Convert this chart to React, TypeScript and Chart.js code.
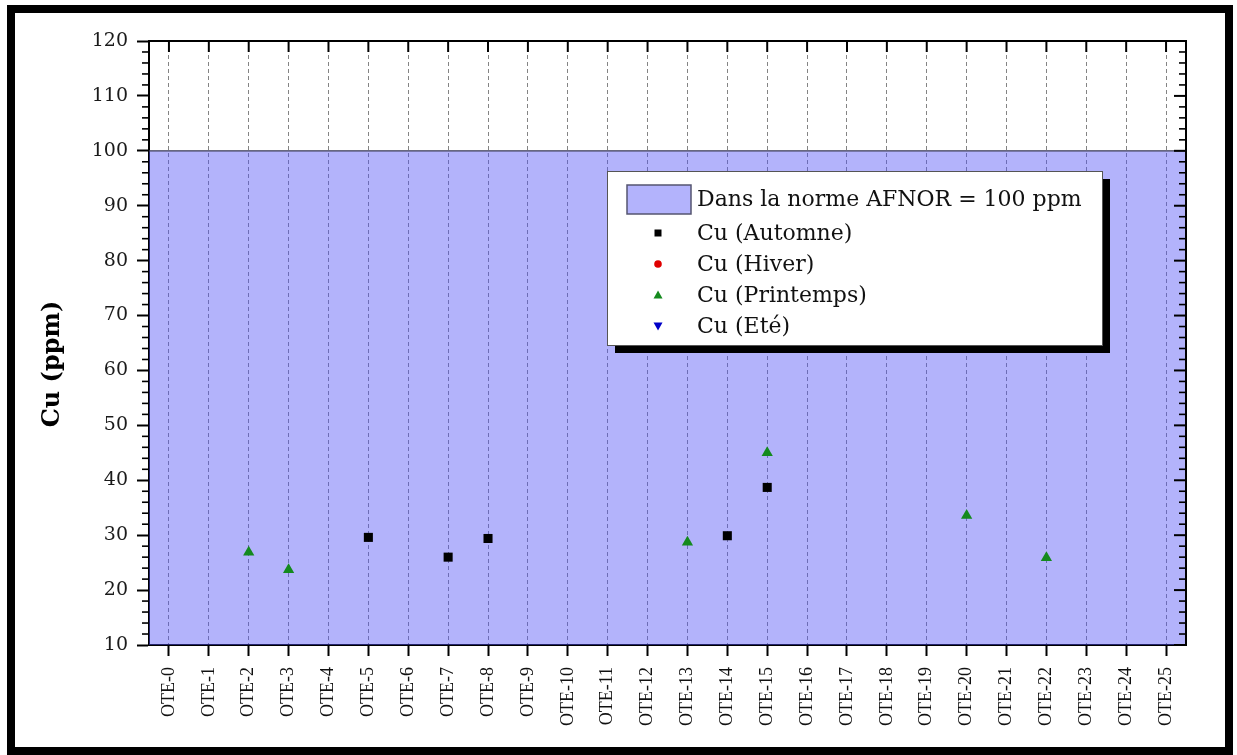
import React, { useEffect, useRef } from 'react';
import { Chart, registerables } from 'chart.js';

Chart.register(...registerables);

const CATEGORIES: string[] = [
  'OTE-0', 'OTE-1', 'OTE-2', 'OTE-3', 'OTE-4', 'OTE-5', 'OTE-6', 'OTE-7', 'OTE-8', 'OTE-9',
  'OTE-10', 'OTE-11', 'OTE-12', 'OTE-13', 'OTE-14', 'OTE-15', 'OTE-16', 'OTE-17', 'OTE-18',
  'OTE-19', 'OTE-20', 'OTE-21', 'OTE-22', 'OTE-23', 'OTE-24', 'OTE-25',
];

const Y_MIN = 10;
const Y_MAX = 120;
const Y_STEP = 10;
const AFNOR_LIMIT = 100;

// values per station (index = OTE number), null = no measure
const CU_AUTOMNE: (number | null)[] = [
  null, null, null, null, null, 29.6, null, 26.0, 29.4, null,
  null, null, null, null, 29.9, 38.7, null, null, null,
  null, null, null, null, null, null, null,
];
const CU_HIVER: (number | null)[] = [];
const CU_PRINTEMPS: (number | null)[] = [
  null, null, 26.9, 23.7, null, null, null, null, null, null,
  null, null, null, 28.7, null, 45.0, null, null, null,
  null, 33.6, null, 25.9, null, null, null,
];
const CU_ETE: (number | null)[] = [];

const LABEL_NORME = 'Dans la norme AFNOR = 100 ppm';
const LABEL_AUTOMNE = 'Cu (Automne)';
const LABEL_HIVER = 'Cu (Hiver)';
const LABEL_PRINTEMPS = 'Cu (Printemps)';
const LABEL_ETE = 'Cu (Eté)';
const Y_TITLE = 'Cu (ppm)';

const SERIF = '"DejaVu Serif", "Liberation Serif", serif';

const toPoints = (arr: (number | null)[]) =>
  arr
    .map((v, i) => ({ x: i, y: v }))
    .filter((p) => p.y !== null && p.y !== undefined) as { x: number; y: number }[];

function drawMarker(ctx: CanvasRenderingContext2D, style: string, x: number, y: number, color: string) {
  ctx.save();
  ctx.fillStyle = color;
  ctx.beginPath();
  if (style === 'rect') {
    ctx.rect(x - 3.5, y - 3.5, 7, 7);
  } else if (style === 'circle') {
    ctx.arc(x, y, 3.8, 0, Math.PI * 2);
  } else if (style === 'triangle') {
    ctx.moveTo(x, y - 4.5);
    ctx.lineTo(x + 4.5, y + 3.5);
    ctx.lineTo(x - 4.5, y + 3.5);
    ctx.closePath();
  } else if (style === 'triangleDown') {
    ctx.moveTo(x, y + 4.5);
    ctx.lineTo(x + 4.5, y - 3.5);
    ctx.lineTo(x - 4.5, y - 3.5);
    ctx.closePath();
  }
  ctx.fill();
  ctx.restore();
}

const decorPlugin = {
  id: 'decor',
  afterDraw(chart: any) {
    const { ctx, chartArea: ca, scales } = chart;
    const x = scales.x;
    const y = scales.y;
    const line = (x1: number, y1: number, x2: number, y2: number) => {
      ctx.beginPath();
      ctx.moveTo(x1, y1);
      ctx.lineTo(x2, y2);
      ctx.stroke();
    };
    ctx.save();
    ctx.strokeStyle = '#000';
    ctx.lineWidth = 2;
    // top & right frame of the plot
    line(ca.left - 1, ca.top, ca.right + 1, ca.top);
    line(ca.right, ca.top, ca.right, ca.bottom);
    // top ticks (inward)
    x.ticks.forEach((t: any) => {
      const px = x.getPixelForValue(t.value);
      line(px, ca.top, px, ca.top + 11);
    });
    // minor ticks left (outward) & right ticks (inward)
    for (let v = Y_MIN; v <= Y_MAX; v += 2) {
      const py = y.getPixelForValue(v);
      const major = v % Y_STEP === 0;
      ctx.lineWidth = major ? 2 : 1.6;
      if (!major) line(ca.left - 7, py, ca.left, py);
      line(ca.right - (major ? 12 : 7), py, ca.right, py);
    }

    // y title
    ctx.save();
    ctx.translate(59, (ca.top + ca.bottom) / 2 + 21);
    ctx.rotate(-Math.PI / 2);
    ctx.fillStyle = '#000';
    ctx.font = `bold 24px ${SERIF}`;
    ctx.textAlign = 'center';
    ctx.textBaseline = 'alphabetic';
    ctx.fillText(Y_TITLE, 0, 0);
    ctx.restore();

    // legend
    const lx = ca.left + 458;
    const ly = ca.top + 130;
    const lw = 495;
    const lh = 174;
    ctx.fillStyle = '#000';
    ctx.fillRect(lx + 8, ly + 8, lw, lh);
    ctx.fillStyle = '#fff';
    ctx.fillRect(lx, ly, lw, lh);
    ctx.strokeStyle = '#555';
    ctx.lineWidth = 1;
    ctx.strokeRect(lx + 0.5, ly + 0.5, lw, lh);

    const ds = chart.data.datasets;
    const rowMid = [28, 62, 93, 124, 155];
    ctx.font = `22px ${SERIF}`;
    ctx.textAlign = 'left';
    ctx.textBaseline = 'middle';
    ds.forEach((d: any, i: number) => {
      const cy = ly + rowMid[i];
      if (i === 0) {
        ctx.fillStyle = 'rgb(179,179,252)';
        ctx.fillRect(lx + 20, cy - 14, 64, 29);
        ctx.strokeStyle = '#555570';
        ctx.lineWidth = 1.5;
        ctx.strokeRect(lx + 20, cy - 14, 64, 29);
      } else {
        drawMarker(ctx, d._legendStyle, lx + 51, cy, d.backgroundColor);
      }
      ctx.fillStyle = '#111';
      ctx.fillText(d.label, lx + 90, cy + 1);
    });
    ctx.restore();
  },
};

export default function App() {
  const canvasRef = useRef<HTMLCanvasElement | null>(null);

  useEffect(() => {
    if (!canvasRef.current) return;
    const markerBase = { type: 'line', showLine: false, borderWidth: 0, pointRadius: 6.5, pointHoverRadius: 6.5, order: 0 };
    const chart = new Chart(canvasRef.current, {
      type: 'line',
      data: {
        datasets: [
          {
            label: LABEL_NORME,
            data: [
              { x: -0.5, y: AFNOR_LIMIT },
              { x: CATEGORIES.length - 0.5, y: AFNOR_LIMIT },
            ],
            fill: 'start',
            backgroundColor: 'rgba(80,80,245,0.434)',
            borderColor: '#3c3c55',
            borderWidth: 1.2,
            pointRadius: 0,
            order: 5,
          },
          {
            ...markerBase,
            label: LABEL_AUTOMNE,
            data: toPoints(CU_AUTOMNE),
            pointStyle: 'rect',
            pointRadius: 6.4,
            backgroundColor: '#000',
            borderColor: '#000',
            _legendStyle: 'rect',
          },
          {
            ...markerBase,
            label: LABEL_HIVER,
            data: toPoints(CU_HIVER),
            pointStyle: 'circle',
            backgroundColor: '#e00000',
            borderColor: '#e00000',
            _legendStyle: 'circle',
          },
          {
            ...markerBase,
            label: LABEL_PRINTEMPS,
            data: toPoints(CU_PRINTEMPS),
            pointStyle: 'triangle',
            backgroundColor: '#148a1e',
            borderColor: '#148a1e',
            _legendStyle: 'triangle',
          },
          {
            ...markerBase,
            label: LABEL_ETE,
            data: toPoints(CU_ETE),
            pointStyle: 'triangle',
            rotation: 180,
            backgroundColor: '#0000c8',
            borderColor: '#0000c8',
            _legendStyle: 'triangleDown',
          },
        ] as any,
      },
      options: {
        animation: false,
        responsive: false,
        events: [],
        layout: { padding: { left: 40, top: 41, right: 51, bottom: 10 } },
        plugins: { legend: { display: false }, tooltip: { enabled: false } },
        scales: {
          x: {
            type: 'linear',
            min: -0.5,
            max: CATEGORIES.length - 0.5,
            afterBuildTicks: (s: any) => {
              s.ticks = CATEGORIES.map((_, i) => ({ value: i }));
            },
            afterFit: (s: any) => {
              s.height = 100;
            },
            ticks: {
              autoSkip: false,
              minRotation: 90,
              maxRotation: 90,
              padding: 11,
              color: '#111',
              font: { family: '"Liberation Serif", serif', size: 18 },
              callback: (v: any) => CATEGORIES[Math.round(Number(v))] ?? '',
            },
            grid: {
              color: 'rgba(125,125,125,0.95)',
              lineWidth: 1,
              tickColor: '#000',
              tickWidth: 2,
              tickLength: 11,
            },
            border: { display: true, color: '#000', width: 2, dash: [4, 3] },
          },
          y: {
            min: Y_MIN,
            max: Y_MAX,
            afterFit: (s: any) => {
              s.width = 109;
            },
            ticks: {
              stepSize: Y_STEP,
              padding: 9,
              color: '#1a1a1a',
              font: { family: SERIF, size: 19 },
            },
            grid: {
              drawOnChartArea: false,
              tickColor: '#000',
              tickWidth: 2,
              tickLength: 12,
            },
            border: { display: true, color: '#000', width: 2 },
          },
        },
      } as any,
      plugins: [decorPlugin],
    });
    return () => chart.destroy();
  }, []);

  return (
    <div style={{ position: 'absolute', left: 0, top: 0, width: 1237, height: 755, background: '#fff' }}>
      <canvas ref={canvasRef} width={1237} height={755} style={{ position: 'absolute', left: 0, top: 0 }} />
      <div
        style={{
          position: 'absolute',
          left: 7,
          top: 5,
          width: 1226,
          height: 750,
          border: '8px solid #000',
          boxSizing: 'border-box',
          pointerEvents: 'none',
        }}
      />
    </div>
  );
}
